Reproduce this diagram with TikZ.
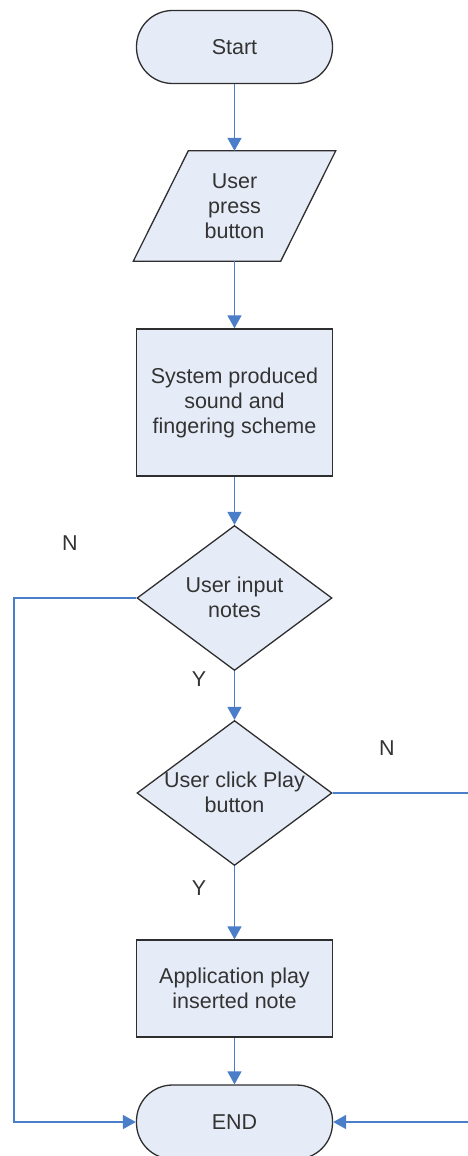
\documentclass[tikz,border=0pt]{standalone}
\usepackage{fontspec}
\setmainfont{Liberation Sans}
\usetikzlibrary{arrows.meta,shapes.geometric,calc}
\definecolor{boxfill}{HTML}{E6ECF7}
\definecolor{flowblue}{HTML}{4A7EC8}
\definecolor{edge}{HTML}{2E2E2E}
\definecolor{ink}{HTML}{333333}
\tikzset{
  x=1pt, y=-1pt,
  base/.style={draw=edge, line width=1.3pt, fill=boxfill, text=ink, align=center,
    font=\fontsize{21.5}{25}\selectfont, inner sep=0pt},
  terminal/.style={base, rectangle, rounded corners=36pt, minimum width=196pt, minimum height=73pt},
  process/.style={base, rectangle, minimum width=196pt},
  decision/.style={base, diamond, minimum width=195pt, minimum height=145pt, aspect=1.34},
  iotext/.style={rectangle, inner sep=0pt, minimum width=147pt, minimum height=110pt,
    align=center, text=ink, font=\fontsize{21.5}{25}\selectfont},
  caption/.style={text=ink, align=center, font=\fontsize{21.5}{25}\selectfont, inner sep=0pt},
  flow/.style={draw=flowblue, line width=1.6pt, -{Triangle[length=13pt,width=14pt]}},
}
\begin{document}
\begin{tikzpicture}
\useasboundingbox (0,0) rectangle (468,1156);
\clip (0,0) rectangle (468,1156);

% shapes
\node[terminal] (start) at (234.5,47) {Start};

\node[iotext] (in) at (234.5,206) {};
\filldraw[draw=edge, line width=1.3pt, fill=boxfill, line join=miter]
  ($(in.north west)+(27.5,0)$) -- ($(in.north east)+(27.5,0)$) --
  ($(in.south east)+(-27.5,0)$) -- ($(in.south west)+(-27.5,0)$) -- cycle;
\node[caption] (intext) at (in) {User\\press\\button};

\node[process, minimum height=147pt] (sys) at (234.5,402.5) {System produced\\sound and\\fingering scheme};

\node[decision] (d1) at (234.5,598) {};
\node[caption] (d1text) at (234.5,597) {User input\\notes};

\node[decision] (d2) at (234.5,793) {};
\node[caption] (d2text) at (234.5,792) {User click Play\\button};

\node[process, minimum height=97pt] (app) at (234.5,988.5) {Application play\\inserted note};

\node[terminal, minimum height=74pt] (end) at (234.5,1122) {END};

% branch labels
\node[caption] (n1) at (70,543) {N};
\node[caption] (y1) at (199,679) {Y};
\node[caption] (n2) at (387,748) {N};
\node[caption] (y2) at (199,888) {Y};

% loop-back bends
\coordinate (lbend1) at (14,598);
\coordinate (lbend2) at (14,1122);
\coordinate (rbend1) at (485,793);
\coordinate (rbend2) at (485,1122);

% connectors
\draw[flow] (start) -- (in);
\draw[flow] (in) -- (sys);
\draw[flow] (sys) -- (d1);
\draw[flow] (d1) -- (d2);
\draw[flow] (d2) -- (app);
\draw[flow] (app) -- (end);
\draw[flow] (d1.west) -- (lbend1) -- (lbend2) -- (end.west);
\draw[flow] (d2.east) -- (rbend1) -- (rbend2) -- (end.east);
\end{tikzpicture}
\end{document}
